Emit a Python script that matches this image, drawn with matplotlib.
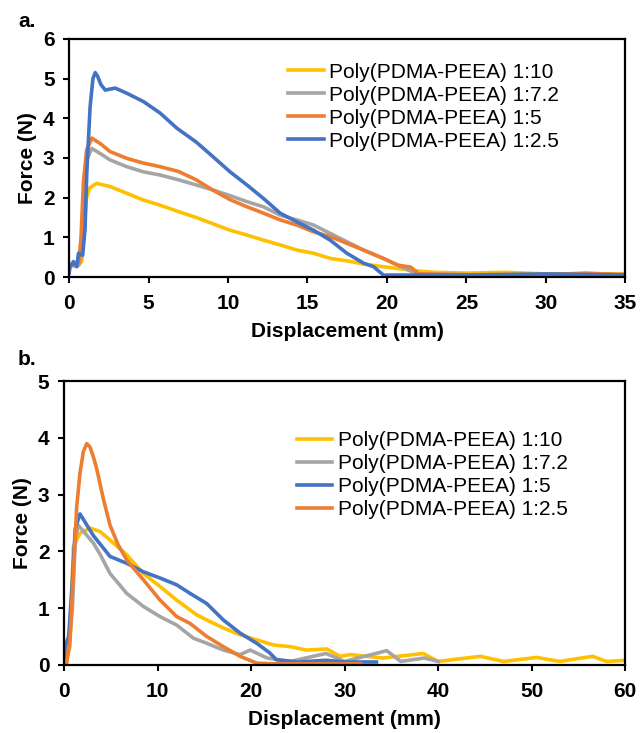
"""
Force vs displacement curves for Poly(PDMA-PEEA) ratios, two panels (a, b).
"""
import matplotlib
matplotlib.use('Agg')
import matplotlib.pyplot as plt

plt.rcParams['font.family'] = ['Liberation Sans', 'DejaVu Sans']

labels = ['Poly(PDMA-PEEA) 1:10', 'Poly(PDMA-PEEA) 1:7.2',
          'Poly(PDMA-PEEA) 1:5', 'Poly(PDMA-PEEA) 1:2.5']

# panel a
a_x_10 = [0, 0.3, 0.6, 0.8, 0.95, 1.1, 1.3, 1.74, 2.58, 3.63, 4.68, 5.73, 6.88,
          8.0, 9.0, 10.13, 11.19, 12.23, 13.28, 14.33, 15.38, 16.43, 17.48,
          18.53, 19.78, 21.0, 22.0, 23.0, 25.0, 27.5, 30.0, 32.5, 35.0]
a_y_10 = [0.3, 0.3, 0.3, 0.4, 1.3, 2.0, 2.25, 2.36, 2.28, 2.11, 1.94, 1.81, 1.65,
          1.5, 1.35, 1.18, 1.06, 0.93, 0.81, 0.68, 0.6, 0.47, 0.41,
          0.33, 0.26, 0.2, 0.15, 0.12, 0.1, 0.12, 0.08, 0.08, 0.08]

a_x_72 = [0, 0.3, 0.6, 0.8, 0.95, 1.1, 1.43, 2.0, 2.58, 3.63, 4.68, 5.73, 6.88,
          8.0, 9.0, 10.13, 11.19, 12.23, 13.28, 14.33, 15.38, 16.43, 17.48,
          18.53, 19.78, 20.5, 21.5, 22.0, 25, 30, 35]
a_y_72 = [0.3, 0.28, 0.3, 0.6, 2.2, 2.95, 3.24, 3.1, 2.95, 2.78, 2.65, 2.57, 2.45,
          2.32, 2.2, 2.05, 1.90, 1.77, 1.56, 1.44, 1.31, 1.10, 0.89,
          0.68, 0.47, 0.33, 0.15, 0.08, 0.06, 0.06, 0.06]

a_x_5 = [0, 0.3, 0.6, 0.75, 0.9, 1.1, 1.43, 2.0, 2.58, 3.63, 4.68, 5.73, 6.88,
         8.0, 9.0, 10.13, 11.19, 12.23, 13.28, 14.33, 15.38, 16.43, 17.48,
         18.53, 20.0, 20.7, 21.5, 22.0, 25, 30, 32.5, 35]
a_y_5 = [0.3, 0.3, 0.35, 1.0, 2.4, 3.2, 3.50, 3.35, 3.16, 2.99, 2.87, 2.78, 2.66,
         2.45, 2.2, 1.95, 1.77, 1.61, 1.44, 1.31, 1.14, 1.02, 0.85,
         0.68, 0.43, 0.3, 0.25, 0.08, 0.06, 0.06, 0.1, 0.06]

a_x_25 = [0, 0.06, 0.27, 0.48, 0.59, 0.85, 1.0, 1.11, 1.32, 1.5, 1.64, 1.8, 2.0,
          2.27, 2.9, 3.63, 4.68, 5.73, 6.78, 8.0, 9.0, 10.13, 11.19, 12.23,
          13.28, 14.33, 15.38, 16.43, 17.48, 18.53, 19.16, 19.78, 22, 25, 30, 35]
a_y_25 = [0.1, 0.26, 0.39, 0.26, 0.6, 0.55, 1.2, 2.61, 4.29, 5.0, 5.15, 5.05, 4.85,
          4.71, 4.76, 4.63, 4.42, 4.13, 3.75, 3.4, 3.05, 2.65, 2.32, 1.98,
          1.61, 1.39, 1.18, 0.93, 0.60, 0.35, 0.26, 0.05, 0.05, 0.05, 0.08, 0.05]

# panel b
b_x_10 = [0, 0.3, 0.64, 1.0, 1.71, 2.78, 3.85, 4.92, 6.7, 8.48, 10.27, 12.05,
          14.2, 15.26, 17.04, 18.82, 20.6, 22.4, 24.2, 25.9, 28.1, 29.5, 30.6,
          34.1, 38.4, 40, 44.5, 47, 50.5, 53, 56.5, 58, 60]
b_y_10 = [0.05, 0.1, 0.32, 2.08, 2.32, 2.41, 2.35, 2.2, 1.94, 1.61, 1.38, 1.14,
          0.88, 0.79, 0.65, 0.53, 0.44, 0.35, 0.32, 0.26, 0.28, 0.15, 0.18,
          0.12, 0.2, 0.06, 0.15, 0.06, 0.13, 0.06, 0.15, 0.06, 0.08]

b_x_72 = [0, 0.5, 0.9, 1.2, 1.53, 3.13, 3.85, 4.92, 6.7, 8.48, 10.27, 12.05,
          13.83, 15.26, 17.04, 18.82, 19.9, 21.7, 24.2, 28, 30, 34.5, 36, 38.5, 40]
b_y_72 = [0.05, 0.3, 1.0, 2.2, 2.46, 2.15, 1.95, 1.61, 1.26, 1.03, 0.85, 0.70,
          0.47, 0.38, 0.26, 0.18, 0.26, 0.12, 0.06, 0.2, 0.06, 0.25, 0.06, 0.12, 0.06]

b_x_5 = [0, 0.11, 0.5, 0.9, 1.2, 1.71, 3.13, 4.92, 6.7, 8.48, 10.27, 12.05,
         13.47, 15.26, 17.04, 18.82, 20.6, 22.0, 22.7, 25, 28, 30, 33.4]
b_y_5 = [0.1, 0.32, 0.5, 1.5, 2.4, 2.66, 2.28, 1.91, 1.79, 1.64, 1.53, 1.41,
         1.26, 1.08, 0.79, 0.56, 0.38, 0.21, 0.09, 0.05, 0.08, 0.05, 0.05]

b_x_25 = [0, 0.29, 0.64, 1.0, 1.36, 1.71, 2.07, 2.43, 2.78, 3.13, 3.49, 4.2, 4.92,
          5.8, 6.7, 7.6, 8.48, 10.27, 12.05, 13.47, 15.26, 17.04, 18.82, 20.6,
          22, 25, 28, 31.7]
b_y_25 = [0.0, 0.03, 0.44, 1.61, 2.79, 3.38, 3.76, 3.90, 3.84, 3.67, 3.46, 2.93, 2.46,
          2.11, 1.85, 1.67, 1.50, 1.14, 0.85, 0.73, 0.50, 0.32, 0.15, 0.03,
          0.02, 0.02, 0.02, 0.02]

YELLOW = '#FFC000'
GRAY = '#A5A5A5'
ORANGE = '#ED7D31'
BLUE = '#4472C4'


def style_axes(ax, xmax, xstep, ymax):
    ax.set_xlim(0, xmax)
    ax.set_ylim(0, ymax)
    ax.set_xticks(range(0, xmax + 1, xstep))
    ax.set_yticks(range(0, ymax + 1))
    for s in ax.spines.values():
        s.set_linewidth(1.6)
        s.set_color('black')
    ax.tick_params(direction='out', length=4.5, width=1.5, labelsize=15)
    ax.tick_params(axis='x', pad=8)
    ax.tick_params(axis='y', pad=6)
    for t in ax.get_xticklabels() + ax.get_yticklabels():
        t.set_fontweight('bold')
    ax.set_xlabel('Displacement (mm)', fontsize=15, fontweight='bold', labelpad=6)
    ax.set_ylabel('Force (N)', fontsize=15, fontweight='bold', labelpad=4)


def add_legend(ax, anchor):
    ax.legend(loc='upper left', bbox_to_anchor=anchor, frameon=False,
              fontsize=15, handlelength=1.7, handletextpad=0.25,
              labelspacing=0.19, borderpad=0, borderaxespad=0)


fig = plt.figure(figsize=(6.4, 7.33), dpi=100)
ax_a = fig.add_axes([0.108, 0.622, 0.869, 0.325])
ax_b = fig.add_axes([0.100, 0.093, 0.877, 0.387])

lw = 2.6
ax_a.plot(a_x_10, a_y_10, color=YELLOW, lw=lw, label=labels[0])
ax_a.plot(a_x_72, a_y_72, color=GRAY, lw=lw, label=labels[1])
ax_a.plot(a_x_5, a_y_5, color=ORANGE, lw=lw, label=labels[2])
ax_a.plot(a_x_25, a_y_25, color=BLUE, lw=lw, label=labels[3])
style_axes(ax_a, 35, 5, 6)
add_legend(ax_a, (0.394, 0.90))

ax_b.plot(b_x_10, b_y_10, color=YELLOW, lw=lw, label=labels[0])
ax_b.plot(b_x_72, b_y_72, color=GRAY, lw=lw, label=labels[1])
ax_b.plot(b_x_5, b_y_5, color=BLUE, lw=lw, label=labels[2])
ax_b.plot(b_x_25, b_y_25, color=ORANGE, lw=lw, label=labels[3])
style_axes(ax_b, 60, 10, 5)
add_legend(ax_b, (0.415, 0.824))

fig.text(0.028, 0.963, 'a.', fontsize=15, fontweight='bold', va='baseline')
fig.text(0.028, 0.502, 'b.', fontsize=15, fontweight='bold', va='baseline')

fig.savefig('out.png', dpi=100)
